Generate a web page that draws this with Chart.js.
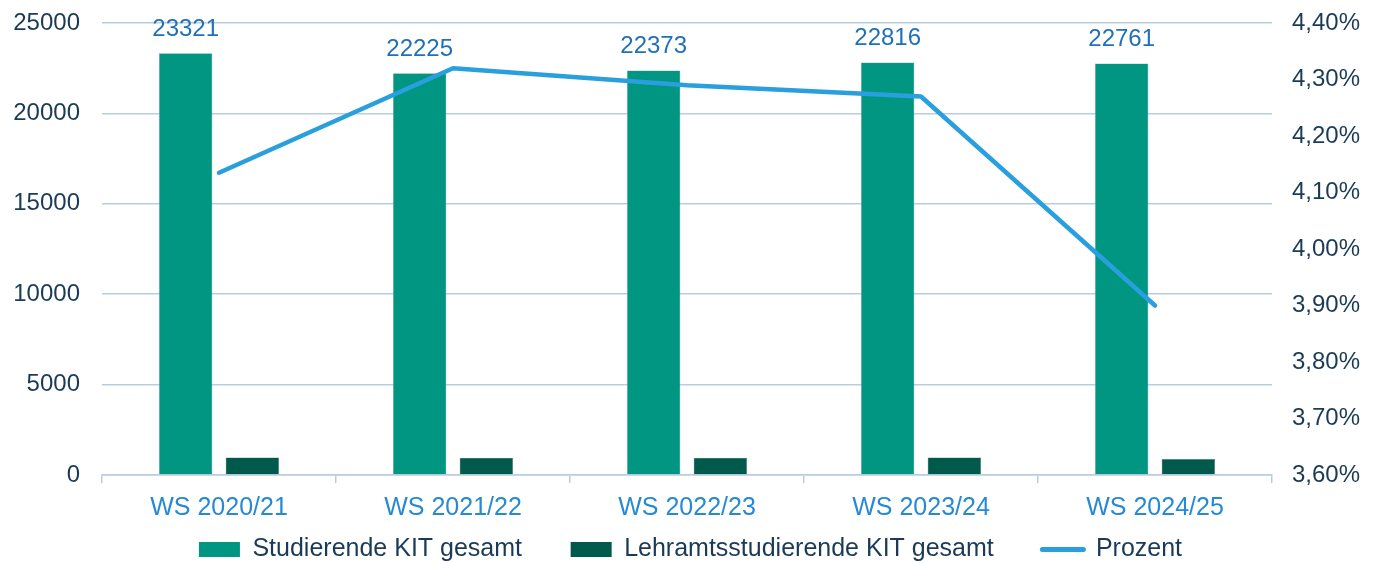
<!DOCTYPE html>
<html>
<head>
<meta charset="utf-8">
<script src="https://cdn.jsdelivr.net/npm/chart.js@4.4.1/dist/chart.umd.min.js"></script>
<style>
  html, body { margin: 0; padding: 0; background: #fff; }
  #wrap { width: 1381px; height: 563px; position: relative; }
</style>
</head>
<body>
<div id="wrap"><canvas id="myChart"></canvas></div>
<script>
// data
const semesters = ['WS 2020/21', 'WS 2021/22', 'WS 2022/23', 'WS 2023/24', 'WS 2024/25'];
const studierendeGesamt = [23321, 22225, 22373, 22816, 22761];
const lehramtGesamt = [964, 960, 960, 974, 888];
const prozent = [4.135, 4.32, 4.29, 4.27, 3.90];

const leftTicks = [0, 5000, 10000, 15000, 20000, 25000];
const rightTicks = [3.6, 3.7, 3.8, 3.9, 4.0, 4.1, 4.2, 4.3, 4.4];

const fontFamily = "'Liberation Sans', Arial, sans-serif";
const green = '#009682';
const darkGreen = '#005a4c';
const lineBlue = '#2a9fdd';
const labelBlue = '#1f70b8';
const xTickBlue = '#2589d6';
const yTickColor = '#1b3a57';
const gridColor = '#b9cde0';

// value labels above the green bars
const barLabels = {
  id: 'barLabels',
  afterDatasetsDraw(chart) {
    const ctx = chart.ctx;
    const meta = chart.getDatasetMeta(1);
    ctx.save();
    ctx.font = '24px ' + fontFamily;
    ctx.fillStyle = labelBlue;
    ctx.textAlign = 'center';
    ctx.textBaseline = 'bottom';
    meta.data.forEach(function(bar, i) {
      ctx.fillText(String(studierendeGesamt[i]), bar.x, bar.y - 12);
    });
    ctx.restore();
  }
};

const data = {
  labels: semesters,
  datasets: [
    {
      type: 'line',
      label: 'Prozent',
      data: prozent,
      yAxisID: 'yRight',
      borderColor: lineBlue,
      backgroundColor: lineBlue,
      borderWidth: 4.5,
      borderCapStyle: 'round',
      borderJoinStyle: 'round',
      pointRadius: 0,
      tension: 0,
      order: 0
    },
    {
      type: 'bar',
      label: 'Studierende KIT gesamt',
      data: studierendeGesamt,
      yAxisID: 'y',
      backgroundColor: green,
      borderColor: '#7aa69e',
      borderWidth: 0.5,
      order: 1
    },
    {
      type: 'bar',
      label: 'Lehramtsstudierende KIT gesamt',
      data: lehramtGesamt,
      yAxisID: 'y',
      backgroundColor: darkGreen,
      borderColor: '#4f7a72',
      borderWidth: 0.5,
      order: 1
    }
  ]
};

// put the bars first in the legend, line last
const legendOrder = ['Studierende KIT gesamt', 'Lehramtsstudierende KIT gesamt', 'Prozent'];

// vertical axes: keep tick label padding from pushing the plot area around
function fixVertical(width) {
  return function(scale) {
    scale.width = width;
    scale.paddingTop = 0;
    scale.paddingBottom = 0;
  };
}

const config = {
  data: data,
  plugins: [barLabels],
  options: {
    responsive: true,
    maintainAspectRatio: false,
    animation: false,
    datasets: {
      bar: { categoryPercentage: 0.57, barPercentage: 0.8 }
    },
    layout: { padding: { top: 23, left: 0, right: 0, bottom: -9 } },
    plugins: {
      tooltip: { enabled: false },
      legend: {
        position: 'bottom',
        labels: {
          font: { family: fontFamily, size: 25 },
          color: yTickColor,
          usePointStyle: true,
          pointStyleWidth: 41,
          boxHeight: 15,
          padding: 0,
          generateLabels(chart) {
            const items = Chart.defaults.plugins.legend.labels.generateLabels(chart);
            items.forEach(function(it) {
              if (it.text === 'Prozent') {
                it.pointStyle = 'line';
                it.strokeStyle = lineBlue;
                it.lineWidth = 5;
                it.lineCap = 'round';
              } else {
                it.pointStyle = 'rect';
                it.lineWidth = 0;
                // wider gap to the next entry
                it.text = it.text + '       ';
              }
            });
            items.sort(function(a, b) {
              return legendOrder.indexOf(a.text.trim()) - legendOrder.indexOf(b.text.trim());
            });
            return items;
          }
        }
      }
    },
    scales: {
      x: {
        offset: true,
        afterFit(scale) { scale.height += 4; },
        grid: {
          display: true,
          offset: true,
          drawOnChartArea: false,
          drawTicks: true,
          tickLength: 8,
          color: gridColor,
          lineWidth: 1.5
        },
        border: { display: true, color: gridColor, width: 1.5 },
        ticks: {
          font: { family: fontFamily, size: 25 },
          color: xTickBlue,
          padding: 10
        }
      },
      y: {
        position: 'left',
        min: 0,
        max: 25000,
        afterBuildTicks(scale) {
          scale.ticks = leftTicks.map(function(v) { return { value: v }; });
        },
        afterFit: fixVertical(102),
        grid: { color: gridColor, lineWidth: 1.5, drawTicks: false },
        border: { display: false },
        ticks: {
          font: { family: fontFamily, size: 24 },
          color: yTickColor,
          padding: 22,
          callback(value) { return String(value); }
        }
      },
      yRight: {
        position: 'right',
        min: 3.6,
        max: 4.4,
        afterBuildTicks(scale) {
          scale.ticks = rightTicks.map(function(v) { return { value: v }; });
        },
        afterFit: fixVertical(109),
        grid: { display: false, drawTicks: false },
        border: { display: false },
        ticks: {
          font: { family: fontFamily, size: 24 },
          color: yTickColor,
          padding: 20,
          callback(value) { return value.toFixed(2).replace('.', ',') + '%'; }
        }
      }
    }
  }
};

const myChart = new Chart(document.getElementById('myChart'), config);
</script>
</body>
</html>
